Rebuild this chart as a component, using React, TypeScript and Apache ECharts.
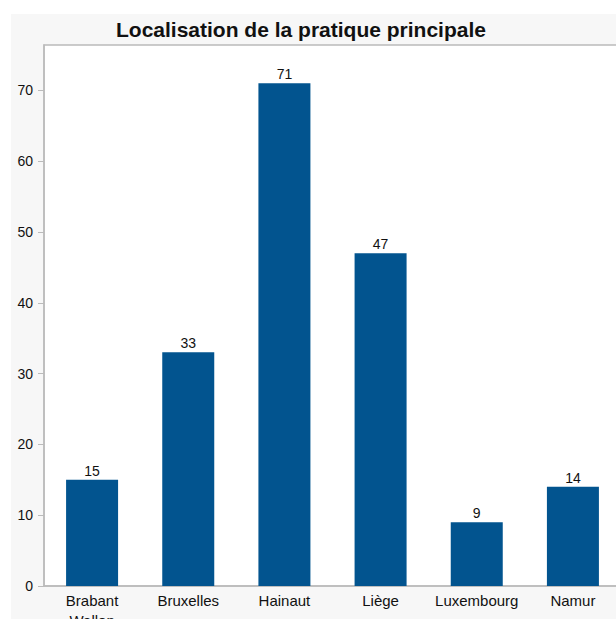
import React, { useEffect, useRef } from "react";
import * as echarts from "echarts";

const titleText = "Localisation de la pratique principale";
const categories = ["Brabant Wallon", "Bruxelles", "Hainaut", "Liège", "Luxembourg", "Namur"];
const values = [15, 33, 71, 47, 9, 14];
const yTicks = [0, 10, 20, 30, 40, 50, 60, 70];

const FONT = "'Liberation Sans', Arial, Helvetica, sans-serif";

export default function App() {
  const ref = useRef<HTMLDivElement>(null);
  useEffect(() => {
    if (!ref.current) return;
    const chart = echarts.init(ref.current, undefined, { renderer: "svg" });
    chart.setOption({
      animation: false,
      backgroundColor: "#ffffff",
      textStyle: { fontFamily: FONT },
      graphic: [
        {
          type: "rect",
          z: -100,
          zlevel: 0,
          silent: true,
          shape: { x: 11, y: 14, width: 640, height: 640 },
          style: { fill: "#f7f7f7" },
        },
      ],
      title: {
        text: titleText,
        left: 111,
        top: 14,
        textStyle: { fontFamily: FONT, fontSize: 21, fontWeight: "bold", color: "#111" },
      },
      grid: {
        left: 44,
        top: 45,
        width: 577,
        height: 541,
        outerBoundsMode: "none",
        containLabel: false,
        show: true,
        backgroundColor: "#ffffff",
        borderColor: "#bbbbbb",
        borderWidth: 1.5,
        z: 0,
      },
      xAxis: {
        type: "category",
        data: categories,
        axisLine: { lineStyle: { color: "#bbbbbb", width: 1.5 } },
        axisTick: { show: false },
        axisLabel: {
          interval: 0,
          margin: 4,
          color: "#111",
          fontSize: 15,
          lineHeight: 20,
          fontFamily: FONT,
          formatter: (v: string) => v.replace(" ", "\n"),
        },
      },
      yAxis: {
        type: "value",
        min: yTicks[0],
        max: 76.4,
        interval: 10,
        splitLine: { show: false },
        axisLine: { show: true, lineStyle: { color: "#bbbbbb", width: 1.5 } },
        axisTick: { show: true, length: 6, lineStyle: { color: "#bbbbbb" } },
        axisLabel: {
          showMaxLabel: false,
          margin: 11,
          color: "#111",
          fontSize: 14,
          fontFamily: FONT,
        },
      },
      series: [
        {
          type: "bar",
          data: values,
          barWidth: 52,
          itemStyle: { color: "#02548f" },
          label: {
            show: true,
            position: "top",
            distance: 2,
            color: "#111",
            fontSize: 14,
            fontFamily: FONT,
          },
        },
      ],
    });
    return () => chart.dispose();
  }, []);
  return (
    <div
      ref={ref}
      style={{ position: "fixed", left: 0, top: 0, width: 616, height: 619 }}
    />
  );
}
